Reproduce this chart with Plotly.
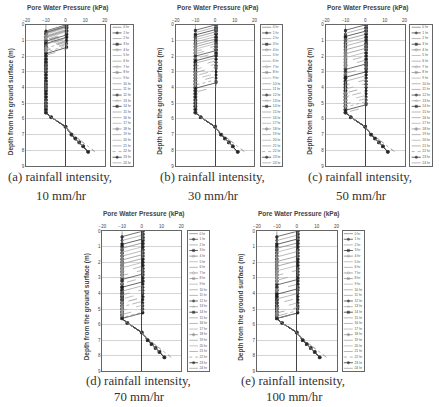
import plotly.graph_objects as go

W, H = 439, 407

# ---------------- data ----------------
HOURS = list(range(25))
HOUR_LABELS = [f"{h} hr" for h in HOURS]
X_TICKS = [-20, -10, 0, 10, 20]
Y_TICKS = [0, 1, 2, 3, 4, 5, 6, 7, 8, 9]

# computation nodes in the unsaturated zone (m)
NODE_DEPTH = [0.0, 0.2, 0.4, 0.6, 0.8, 1.0, 1.2, 1.4, 1.6, 1.8, 2.0, 2.2, 2.4, 2.6,
              2.8, 3.0, 3.2, 3.4, 3.6, 3.8, 4.0, 4.2, 4.4, 4.6, 4.8, 5.0, 5.2, 5.4, 5.6]
SUCTION = -10.0          # initial pore water pressure above 5.6 m (kPa)
SURFACE_PWP = 0.5        # pressure in the wetted zone (kPa)

# lower (near water table) part of the profiles
LOWER_DEPTH = [5.6, 5.9, 6.5, 7.0, 7.25, 7.5, 7.75, 8.1]
LOWER_PWP_EARLY = [-10.0, -7.3, 0.0, 3.0, 5.0, 7.0, 9.0, 11.5]
LOWER_PWP_LATE = [-10.0, -7.3, 0.0, 3.8, 6.3, 8.8, 11.3, 15.0]
LATE_HOURS = [21, 22]

# depth of the wetting front top (m) for hours 1..24, per rainfall intensity
WET_A = [0.0, 0.05, 0.1, 0.15, 0.2, 0.3, 0.35, 0.4, 0.45, 0.55, 0.6, 0.65,
         0.7, 0.8, 0.85, 0.9, 1.0, 1.05, 1.1, 1.2, 1.25, 1.35, 1.45, 1.55]
WET_B = [0.0, 0.15, 0.3, 0.45, 0.6, 0.75, 0.9, 1.05, 1.2, 1.35, 1.5, 1.65,
         1.8, 1.95, 2.1, 2.3, 2.5, 2.7, 2.9, 3.1, 3.3, 3.5, 3.7, 3.95]
WET_C = [0.0, 0.2, 0.4, 0.6, 0.8, 1.0, 1.25, 1.5, 1.75, 2.0, 2.25, 2.5,
         2.75, 3.0, 3.25, 3.5, 3.75, 4.0, 4.25, 4.5, 4.7, 4.9, 5.1, 5.25]
WET_D = [0.0, 0.25, 0.5, 0.75, 1.0, 1.25, 1.5, 1.75, 2.0, 2.25, 2.5, 2.75,
         3.0, 3.25, 3.5, 3.75, 4.0, 4.25, 4.5, 4.75, 5.0, 5.2, 5.25, 5.25]
WET_E = [0.0, 0.25, 0.5, 0.75, 1.0, 1.3, 1.6, 1.9, 2.2, 2.5, 2.8, 3.1,
         3.4, 3.7, 4.0, 4.3, 4.6, 4.9, 5.1, 5.25, 5.25, 5.25, 5.25, 5.25]
FRONT_THICK = [0.4, 0.35, 0.35, 0.35, 0.35]

CAPTION_1 = ["(a) rainfall intensity,", "(b) rainfall intensity,", "(c) rainfall intensity,",
             "(d) rainfall intensity,", "(e) rainfall intensity,"]
CAPTION_2 = ["10 mm/hr", "30 mm/hr", "50 mm/hr", "70 mm/hr", "100 mm/hr"]
WETS = [WET_A, WET_B, WET_C, WET_D, WET_E]

# ---------------- styles ----------------
DASH = ['solid', 'solid', 'solid', 'solid', 'solid', 'solid', 'solid', 'solid', 'solid', 'solid',
        'dash', 'dash', 'solid', 'dash', 'solid', 'solid', 'dash', 'dash', 'dash', 'dashdot',
        'dash', 'dash', 'dot', 'solid', 'dash']
SYMBOL = [None, 'circle', None, 'square', 'circle-open', None, None, 'diamond-open', 'x', None,
          None, None, 'circle', 'triangle-up-open', 'square', None, None, None, 'cross', None,
          None, None, None, 'circle', None]
COLOR = ['#777', '#333', '#999', '#222', '#777', '#aaa', '#999', '#888', '#888', '#aaa',
         '#999', '#999', '#333', '#999', '#222', '#999', '#999', '#aaa', '#888', '#999',
         '#aaa', '#999', '#999', '#222', '#999']

# panel placement in pixels: plot (x0, x1, y0, y1), legend (x0, x1)
PANELS = [
    ((22.6, 102.5, 23, 166), (109, 131)),
    ((174.5, 254.5, 23, 166), (261, 283)),
    ((327, 407, 23, 166), (413, 435)),
    ((100, 180, 232, 374), (187, 208)),
    ((257, 338, 232, 374), (344, 366)),
]
CAP_CX = [57, 212, 362, 137, 294]
CAP_DY = [(11, 30), (11, 30), (11, 30), (10, 25.5), (10, 25.5)]


def profile(wt, thick, lower_p):
    zs, xs = [], []
    if wt is None:
        zs = [z for z in NODE_DEPTH if z < 5.6]
        xs = [SUCTION] * len(zs)
    else:
        wb = min(wt + thick, 5.6)
        top = [z for z in NODE_DEPTH if z < wt] + [wt]
        zs += top
        xs += [SURFACE_PWP] * len(top)
        bot = [wb] + [z for z in NODE_DEPTH if wb < z < 5.6]
        if wb >= 5.6:
            bot = []
        zs += bot
        xs += [SUCTION] * len(bot)
    zs += LOWER_DEPTH
    xs += lower_p
    return xs, zs


fig = go.Figure()
layout = dict(width=W, height=H, margin=dict(l=0, r=0, t=0, b=0),
              paper_bgcolor='white', plot_bgcolor='white', showlegend=False)
annotations = []

tickfont = dict(family='Liberation Sans', size=4.5, color='#444')
titlefont = dict(family='Liberation Sans', size=6.5, color='#444')

for k, ((px0, px1, py0, py1), (lx0, lx1)) in enumerate(PANELS):
    ia = 2 * k + 1
    il = 2 * k + 2
    xa = 'x' if ia == 1 else f'x{ia}'
    ya = 'y' if ia == 1 else f'y{ia}'
    xl, yl = f'x{il}', f'y{il}'
    ydom = [1 - py1 / H, 1 - py0 / H]

    layout['xaxis' if ia == 1 else f'xaxis{ia}'] = dict(
        domain=[px0 / W, px1 / W], anchor=ya, side='top', range=[-20, 20],
        tickvals=X_TICKS, ticks='', tickfont=tickfont, showgrid=False,
        zeroline=True, zerolinecolor='#444', zerolinewidth=1,
        showline=True, mirror=True, linecolor='#666', linewidth=1)
    layout['yaxis' if ia == 1 else f'yaxis{ia}'] = dict(
        domain=ydom, anchor=xa, range=[9, 0], tickvals=Y_TICKS, ticks='',
        tickfont=tickfont, showgrid=True, gridcolor='#d4d4d4', gridwidth=0.7,
        zeroline=False, showline=True, mirror=True, linecolor='#666', linewidth=1)
    layout[f'xaxis{il}'] = dict(domain=[lx0 / W, lx1 / W], anchor=yl, range=[0, 1],
                                showticklabels=False, showgrid=False, zeroline=False,
                                showline=True, mirror=True, linecolor='#666', linewidth=1)
    layout[f'yaxis{il}'] = dict(domain=ydom, anchor=xl, range=[24.55, -0.45],
                                showticklabels=False, showgrid=False, zeroline=False,
                                showline=True, mirror=True, linecolor='#666', linewidth=1)

    wets = [None] + WETS[k]
    for h in HOURS:
        lower = LOWER_PWP_LATE if h in LATE_HOURS else LOWER_PWP_EARLY
        xs, zs = profile(wets[h], FRONT_THICK[k], lower)
        sym = SYMBOL[h]
        fig.add_trace(go.Scatter(
            x=xs, y=zs, xaxis=xa, yaxis=ya,
            mode='lines+markers' if sym else 'lines',
            line=dict(color=COLOR[h], width=0.7, dash=DASH[h]),
            marker=dict(symbol=sym or 'circle', size=2.4, color=COLOR[h],
                        line=dict(width=0.5, color=COLOR[h])),
            hoverinfo='skip'))
        # legend sample
        fig.add_trace(go.Scatter(
            x=[0.06, 0.27, 0.48], y=[h, h, h], xaxis=xl, yaxis=yl,
            mode='lines+markers' if sym else 'lines',
            line=dict(color=COLOR[h], width=0.7, dash=DASH[h]),
            marker=dict(symbol=sym or 'circle', size=[0, 2.4, 0], color=COLOR[h],
                        line=dict(width=0.5, color=COLOR[h])),
            hoverinfo='skip'))
    fig.add_trace(go.Scatter(
        x=[0.55] * len(HOURS), y=HOURS, xaxis=xl, yaxis=yl, mode='text',
        text=HOUR_LABELS, textposition='middle right',
        textfont=dict(family='Liberation Sans', size=3.4, color='#555'),
        hoverinfo='skip', cliponaxis=False))

    cx = (px0 + px1) / 2
    d1, d2 = CAP_DY[k]
    annotations.append(dict(text='<b>Pore Water Pressure (kPa)</b>', x=(cx + 2) / W,
                            y=1 - (py0 - 17) / H, xref='paper', yref='paper',
                            showarrow=False, xanchor='center', yanchor='middle',
                            font=titlefont))
    annotations.append(dict(text='<b>Depth from the ground surface (m)</b>',
                            x=(px0 - 15.5) / W, y=1 - ((py0 + py1) / 2 + 6) / H,
                            xref='paper', yref='paper', showarrow=False, textangle=-90,
                            xanchor='center', yanchor='middle', font=titlefont))
    annotations.append(dict(text=CAPTION_1[k], x=CAP_CX[k] / W, y=1 - (py1 + d1) / H,
                            xref='paper', yref='paper', showarrow=False,
                            xanchor='center', yanchor='middle',
                            font=dict(family='Liberation Serif', size=12.8, color='#333')))
    annotations.append(dict(text=CAPTION_2[k], x=(CAP_CX[k] + 1) / W, y=1 - (py1 + d2) / H,
                            xref='paper', yref='paper', showarrow=False,
                            xanchor='center', yanchor='middle',
                            font=dict(family='Liberation Serif', size=12.8, color='#333')))

layout['annotations'] = annotations
fig.update_layout(**layout)
fig.write_html("out.html")
